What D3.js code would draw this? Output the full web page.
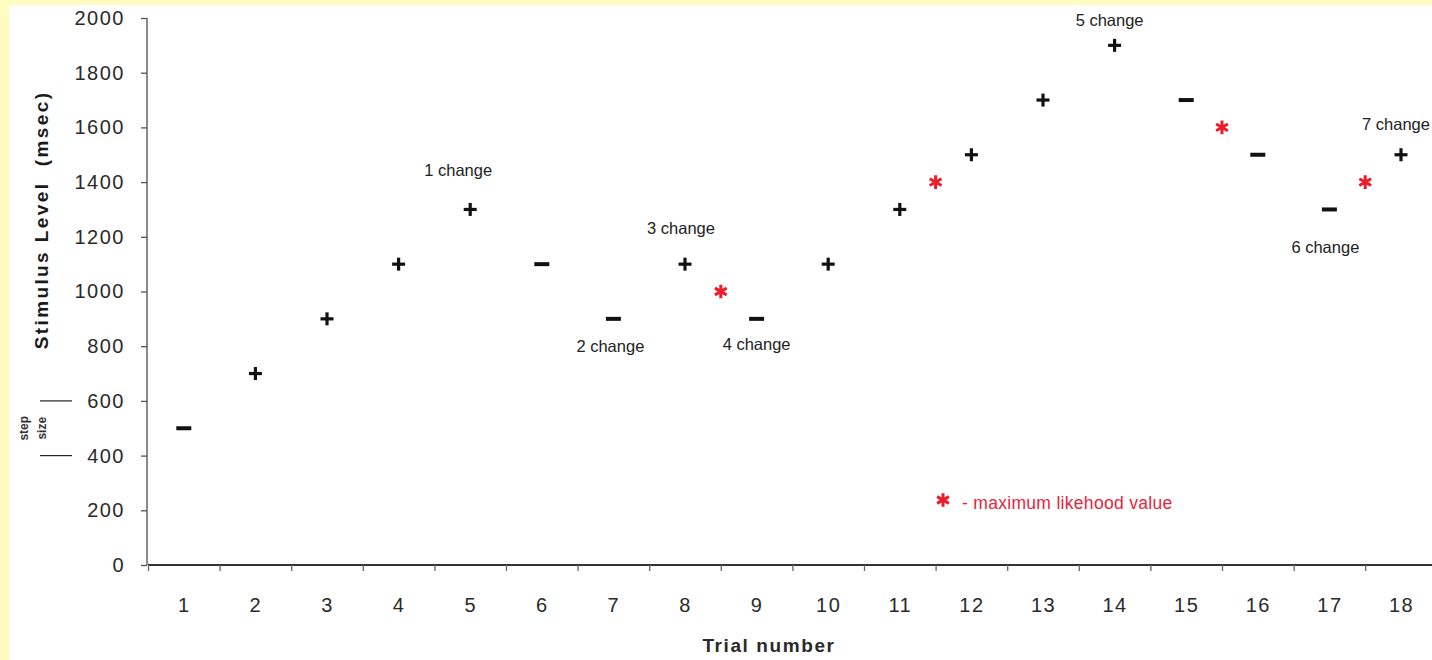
<!DOCTYPE html>
<html>
<head>
<meta charset="utf-8">
<script src="https://cdn.jsdelivr.net/npm/d3@7"></script>
<style>
  body { margin: 0; background: #fff; overflow: hidden; }
  svg { display: block; }
  text { font-family: "Liberation Sans", Arial, sans-serif; }
</style>
</head>
<body>
<svg width="1432" height="660"></svg>
<script>
// trial data (staircase)
const trials = [1, 2, 3, 4, 5, 6, 7, 8, 9, 10, 11, 12, 13, 14, 15, 16, 17, 18];
const levels = [500, 700, 900, 1100, 1300, 1100, 900, 1100, 900, 1100, 1300, 1500, 1700, 1900, 1700, 1500, 1300, 1500];
const responses = ["-", "+", "+", "+", "+", "-", "-", "+", "-", "+", "+", "+", "+", "+", "-", "-", "-", "+"];

// maximum likelihood values (red stars)
const mlTrials = [8.5, 11.5, 15.5, 17.5];
const mlValues = [1000, 1400, 1600, 1400];

// reversal labels
const changeLabels = ["1 change", "2 change", "3 change", "4 change", "5 change", "6 change", "7 change"];
const changeTrials = [5, 7, 8, 9, 14, 17, 18];

const yTicks = [0, 200, 400, 600, 800, 1000, 1200, 1400, 1600, 1800, 2000];

const svg = d3.select("svg");
const width = +svg.attr("width");
const height = +svg.attr("height");

// yellow frame + white panel
svg.append("rect").attr("width", width).attr("height", height).attr("fill", "#fffcbf");
svg.append("rect").attr("x", 9).attr("y", 5).attr("width", width).attr("height", height).attr("fill", "#fff");

const x = d3.scaleLinear().domain([0.5, 18.5]).range([148, 148 + 18 * 71.6]);
const y = d3.scaleLinear().domain([0, 2000]).range([565, 18]);

// y axis
const yAxis = svg.append("g")
    .attr("transform", "translate(147,0)")
    .call(d3.axisLeft(y).tickValues(yTicks).tickSize(6).tickPadding(16).tickFormat(d3.format("d")));
yAxis.select(".domain").attr("stroke", "#8a8a8a").attr("stroke-width", 2).attr("d", `M0,${y(2000)}V${y(0)}`);
yAxis.selectAll(".tick line").attr("stroke", "#555").attr("stroke-width", 1.3);
yAxis.selectAll(".tick text")
    .attr("font-size", 20)
    .attr("letter-spacing", 1.5)
    .attr("fill", "#2a2a2a")
    .attr("font-family", "Liberation Sans, Arial, sans-serif");

// x axis: ticks at trial boundaries, labels at trial centres
const xTickAxis = svg.append("g")
    .attr("transform", `translate(0,${y(0)})`)
    .call(d3.axisBottom(x).tickValues(trials.map(t => t - 0.5)).tickSize(6).tickFormat(""));
xTickAxis.select(".domain").attr("stroke", "#333").attr("stroke-width", 2).attr("d", `M${x(0.5)},0H${width}`);
xTickAxis.selectAll(".tick line").attr("stroke", "#666").attr("stroke-width", 1.3);

const xLabelAxis = svg.append("g")
    .attr("transform", `translate(0,${y(0)})`)
    .call(d3.axisBottom(x).tickValues(trials).tickSize(0).tickPadding(33).tickFormat(d3.format("d")));
xLabelAxis.select(".domain").remove();
xLabelAxis.selectAll(".tick text")
    .attr("font-size", 20)
    .attr("letter-spacing", 1.5)
    .attr("fill", "#2a2a2a")
    .attr("font-family", "Liberation Sans, Arial, sans-serif");

// axis titles
svg.append("text")
    .attr("x", 769).attr("y", 652)
    .attr("text-anchor", "middle")
    .attr("font-size", 19).attr("font-weight", "bold")
    .attr("letter-spacing", 1.6)
    .attr("fill", "#2a2a2a")
    .text("Trial number");

svg.append("text")
    .attr("transform", "translate(48,220) rotate(-90)")
    .attr("text-anchor", "middle")
    .attr("font-size", 19).attr("font-weight", "bold")
    .attr("letter-spacing", 2.4)
    .attr("fill", "#1a1a1a")
    .attr("xml:space", "preserve")
    .text("Stimulus Level  (msec)");

// step size marker
const stepG = svg.append("g");
[400, 600].forEach(v => {
    stepG.append("line")
        .attr("x1", 40).attr("x2", 72)
        .attr("y1", y(v)).attr("y2", y(v))
        .attr("stroke", "#222").attr("stroke-width", 1.2);
});
["step", "size"].forEach((w, i) => {
    stepG.append("text")
        .attr("transform", `translate(${28 + i * 18},${(y(400) + y(600)) / 2}) rotate(-90)`)
        .attr("text-anchor", "middle")
        .attr("font-size", 12).attr("font-weight", "bold")
        .attr("fill", "#333")
        .text(w);
});

// response markers (+ / -)
const pts = trials.map((t, i) => ({ t, v: levels[i], r: responses[i] }));
const marks = svg.append("g")
    .selectAll("g")
    .data(pts)
    .join("g")
    .attr("transform", d => `translate(${x(d.t)},${y(d.v)})`);

marks.append("line")
    .attr("x1", d => d.r === "+" ? -6.5 : -7.5)
    .attr("x2", d => d.r === "+" ? 6.5 : 7.5)
    .attr("stroke", "#111")
    .attr("stroke-width", d => d.r === "+" ? 3.2 : 4);

marks.filter(d => d.r === "+")
    .append("line")
    .attr("y1", -6.5).attr("y2", 6.5)
    .attr("stroke", "#111")
    .attr("stroke-width", 3.2);

// maximum likelihood stars
const star = d3.symbol().type(d3.symbolAsterisk).size(130);
svg.append("g")
    .selectAll("path")
    .data(mlTrials.map((t, i) => ({ t, v: mlValues[i] })))
    .join("path")
    .attr("d", star)
    .attr("transform", d => `translate(${x(d.t)},${y(d.v)})`)
    .attr("fill", "none")
    .attr("stroke", "#ee1c2a")
    .attr("stroke-width", 3);

// change labels (pixel offsets from their point)
const changeOffsets = [[-12, -39], [-3, 27], [-4, -36], [0, 25], [-5, -25], [-4, 38], [-5, -31]];
svg.append("g")
    .selectAll("text")
    .data(changeLabels)
    .join("text")
    .attr("x", (d, i) => x(changeTrials[i]) + changeOffsets[i][0])
    .attr("y", (d, i) => y(levels[changeTrials[i] - 1]) + changeOffsets[i][1])
    .attr("dy", "0.35em")
    .attr("text-anchor", "middle")
    .attr("font-size", 16.5)
    .attr("fill", "#222")
    .text(d => d);

// legend
const legend = svg.append("g").attr("transform", "translate(943,500)");
legend.append("path")
    .attr("d", star)
    .attr("fill", "none")
    .attr("stroke", "#ee1c2a")
    .attr("stroke-width", 3);
legend.append("text")
    .attr("x", 19).attr("y", 3)
    .attr("dy", "0.35em")
    .attr("font-size", 17.5)
    .attr("letter-spacing", 0.3)
    .attr("fill", "#e8243c")
    .text("- maximum likehood value");
</script>
</body>
</html>
